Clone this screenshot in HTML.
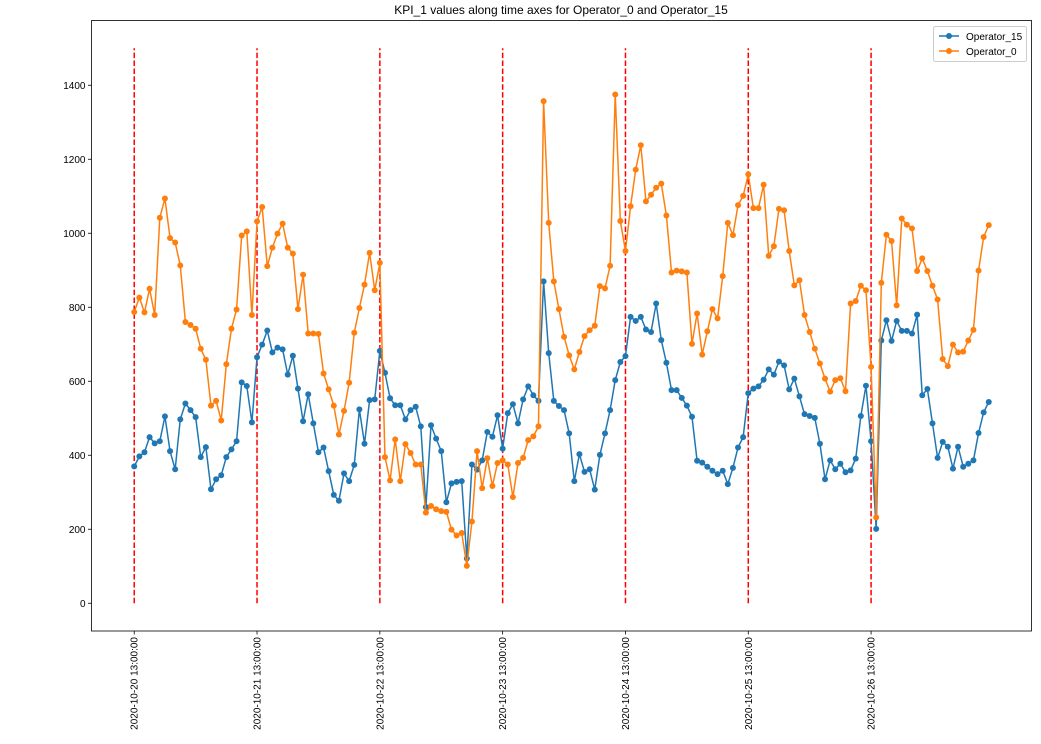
<!DOCTYPE html>
<html><head><meta charset="utf-8">
<style>
html,body{margin:0;padding:0;background:#fff;}
svg{display:block;font-family:"Liberation Sans","DejaVu Sans",sans-serif;}
</style></head>
<body>
<svg id="chart" width="1041" height="744" viewBox="0 0 1041 744" xmlns="http://www.w3.org/2000/svg">
<rect x="0" y="0" width="1041" height="744" fill="#fff"/>
<text x="561" y="14" font-size="12" text-anchor="middle" fill="#000">KPI_1 values along time axes for Operator_0 and Operator_15</text>
<g id="plot"></g>
<rect x="91.5" y="20.5" width="940" height="610.5" fill="none" stroke="#000" stroke-width="0.8"/>
<g>
<rect x="933.5" y="26.5" width="93" height="35" fill="#fff" stroke="#ccc" rx="2"/>
<g>
<line x1="939" y1="36" x2="959" y2="36" stroke="#1f77b4" stroke-width="1.5"/><circle cx="949" cy="36" r="3" fill="#1f77b4"/>
<text x="966" y="40" font-size="10">Operator_15</text></g>
<g>
<line x1="939" y1="51" x2="959" y2="51" stroke="#ff7f0e" stroke-width="1.5"/><circle cx="949" cy="51" r="3" fill="#ff7f0e"/>
<text x="966" y="55" font-size="10">Operator_0</text></g>
</g>
</svg>
<script>
const op15 = [370,397,408,449,432,438,505,411,362,497,540,522,503,395,422,308,335,346,395,416,438,597,587,489,
665,699,737,678,691,686,618,669,580,492,565,486,408,421,357,293,277,351,330,374,524,431,549,551,
682,623,554,535,535,497,522,531,478,260,481,445,411,273,324,328,330,121,375,361,386,463,450,508,
418,514,538,486,551,586,562,547,870,676,547,533,522,459,330,403,355,362,307,401,459,522,603,652,
668,774,763,774,740,733,810,711,650,576,576,555,534,504,385,380,369,358,349,358,322,366,421,449,
568,580,586,604,632,618,653,643,578,607,559,511,506,501,431,335,386,362,377,354,359,391,506,588,
438,201,710,765,709,763,736,736,729,780,562,579,486,393,436,423,364,423,369,377,386,460,516,544];
const op0 = [787,826,786,850,779,1042,1094,987,975,913,760,752,742,688,658,534,547,494,646,742,794,994,1005,779,
1032,1071,911,961,999,1026,961,945,795,888,729,729,728,621,578,534,456,520,596,731,798,861,947,846,
920,395,332,443,330,430,406,375,375,245,263,254,249,247,199,183,190,101,221,411,311,392,317,379,
386,375,287,379,393,441,451,478,1357,1028,870,795,720,670,632,679,722,738,750,857,851,912,1375,1033,
952,1073,1172,1238,1086,1104,1123,1134,1048,894,899,897,894,701,783,672,735,795,770,884,1028,995,1076,1101,
1159,1068,1068,1131,939,965,1066,1062,952,859,873,779,733,688,648,607,572,603,608,573,810,817,858,846,
639,232,866,996,979,805,1040,1023,1013,898,932,898,858,821,660,641,699,678,680,710,739,899,990,1022];
const tickLabels = ["2020-10-20 13:00:00","2020-10-21 13:00:00","2020-10-22 13:00:00","2020-10-23 13:00:00","2020-10-24 13:00:00","2020-10-25 13:00:00","2020-10-26 13:00:00"];
const tickIndex = [0,24,48,72,96,120,144];
const yTicks = [0,200,400,600,800,1000,1200,1400];
const vlineRange = [0,1500];

const NS = "http://www.w3.org/2000/svg";
const X0=91.5, X1=1031.5, Y0=20.5, Y1=631;
const n = Math.max(op15.length, op0.length);
const xmin = 0 - 0.05*(n-1), xmax = (n-1) + 0.05*(n-1);
const ymin = -75, ymax = 1575;
function xs(i){ return X0 + (i - xmin)/(xmax - xmin)*(X1 - X0); }
function ys(v){ return Y1 - (v - ymin)/(ymax - ymin)*(Y1 - Y0); }
const g = document.getElementById('plot');
function mk(tag, attrs){ const e=document.createElementNS(NS,tag); for(const k in attrs) e.setAttribute(k, attrs[k]); g.appendChild(e); return e; }

yTicks.forEach(v=>{
  const y = ys(v);
  const t = mk('line',{x1:X0-3.5,x2:X0,y1:y,y2:y,stroke:'#000','stroke-width':0.8});
  
  
  const l = mk('text',{x:X0-6,y:y+3.5,'font-size':10,'text-anchor':'end',fill:'#000'});
  l.textContent = v;
  
  
});
tickIndex.forEach((idx,k)=>{
  const x = xs(idx);
  const t = mk('line',{x1:x,x2:x,y1:Y1,y2:Y1+3.5,stroke:'#000','stroke-width':0.8});
  
  
  const l = mk('text',{x:0,y:0,'font-size':10,'text-anchor':'end',fill:'#000',transform:`translate(${x+3.5},${Y1+6}) rotate(-90)`});
  l.textContent = tickLabels[k];
  
  
  const v = mk('line',{x1:x,x2:x,y1:ys(vlineRange[0]),y2:ys(vlineRange[1]),stroke:'#ff0000','stroke-width':1.5,'stroke-dasharray':'5.5,2.4'});
  
  
});
function series(data, color, name){
  const pts = data.map((v,i)=>xs(i).toFixed(2)+','+ys(v).toFixed(2)).join(' ');
  const pl = mk('polyline',{points:pts,fill:'none',stroke:color,'stroke-width':1.5,'stroke-linejoin':'round'});
  
  
  data.forEach((v,i)=>{
    const c = mk('circle',{cx:xs(i),cy:ys(v),r:3,fill:color});
    
    
  });
}
series(op15,'#1f77b4','operator-15');
series(op0,'#ff7f0e','operator-0');
</script>
</body></html>
